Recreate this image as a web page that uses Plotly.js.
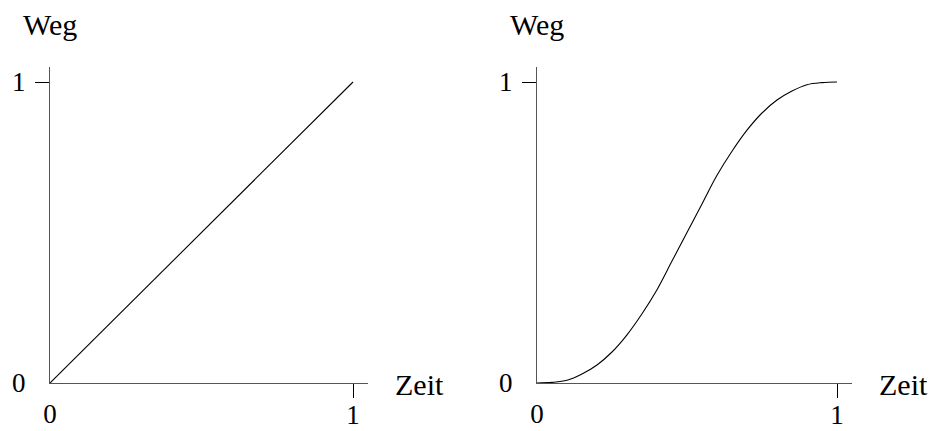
<!DOCTYPE html>
<html>
<head>
<meta charset="utf-8">
<script src="https://cdn.plot.ly/plotly-3.0.1.min.js"></script>
<style>
  html, body { margin: 0; padding: 0; background: #fff; }
  #chart { width: 934px; height: 431px; }
</style>
</head>
<body>
<div id="chart"></div>
<script>
// Linear motion: distance grows evenly with time
const linearTime = [0, 1];
const linearDist = [0, 1];

// Smooth start/stop motion: slow start, fast middle, slow arrival
const smoothTime = [0, 0.05, 0.1, 0.15, 0.2, 0.25, 0.3, 0.35, 0.4, 0.45, 0.5,
                    0.55, 0.6, 0.65, 0.7, 0.75, 0.8, 0.85, 0.9, 0.95, 1];
const smoothDist = [0, 0.002, 0.009, 0.03, 0.06, 0.103, 0.16, 0.23, 0.31, 0.405, 0.5,
                    0.595, 0.69, 0.77, 0.84, 0.897, 0.94, 0.97, 0.991, 0.998, 1];

const xTitle = 'Zeit';
const yTitle = 'Weg';
const tickOne = [1];
const tickZero = [0];

const W = 934, H = 431;
const TICK_FONT = {family: 'Liberation Serif', size: 27, color: '#000'};
const TITLE_FONT = {family: 'Liberation Serif', size: 30, color: '#000'};
const AXIS_MAX = 1.05;

const leftDom = [50 / W, (50 + 303 * AXIS_MAX) / W];
const rightDom = [537 / W, (537 + 300 * AXIS_MAX) / W];
const yDom = [(H - 383) / H, (H - 383 + 301 * AXIS_MAX) / H];

function baseAxis(vals, tickColor, isX) {
  return {
    range: [0, AXIS_MAX], autorange: false,
    showgrid: false, zeroline: false,
    tickmode: 'array', tickvals: vals, ticktext: vals.map(String),
    ticks: 'outside', ticklen: 14, tickwidth: 1, tickcolor: tickColor,
    ticklabelstandoff: isX ? -7 : 4,
    tickfont: TICK_FONT, fixedrange: true
  };
}
function mainAxis(dom, anchor, isX) {
  return Object.assign(baseAxis(tickOne, '#000', isX), {
    domain: dom, anchor: anchor, showline: true, linecolor: '#555', linewidth: 1.2
  });
}
// Label-only axes carrying the "0" at the origin (no tick stroke there)
function zeroAxis(over, anchor, isX) {
  return Object.assign(baseAxis(tickZero, 'rgba(0,0,0,0)', isX), {
    overlaying: over, anchor: anchor, showline: false
  });
}

const traces = [
  {x: linearTime, y: linearDist, xaxis: 'x', yaxis: 'y', mode: 'lines',
   line: {color: '#000', width: 1.1}, cliponaxis: false, hoverinfo: 'skip'},
  {x: smoothTime, y: smoothDist, xaxis: 'x2', yaxis: 'y2', mode: 'lines',
   line: {color: '#000', width: 1.1, shape: 'spline', smoothing: 1}, cliponaxis: false, hoverinfo: 'skip'},
  // empty traces so the label-only axes get drawn
  {x: [null], y: [null], xaxis: 'x3', yaxis: 'y', mode: 'lines', hoverinfo: 'skip'},
  {x: [null], y: [null], xaxis: 'x', yaxis: 'y3', mode: 'lines', hoverinfo: 'skip'},
  {x: [null], y: [null], xaxis: 'x4', yaxis: 'y2', mode: 'lines', hoverinfo: 'skip'},
  {x: [null], y: [null], xaxis: 'x2', yaxis: 'y4', mode: 'lines', hoverinfo: 'skip'}
];

function axisTitles(xr, yr) {
  return [
    {xref: xr, yref: 'paper', x: 0, y: (H - 24) / H, text: yTitle, showarrow: false,
     xanchor: 'center', yanchor: 'middle', font: TITLE_FONT},
    {xref: xr, yref: yr, x: AXIS_MAX, y: 0, text: xTitle, showarrow: false,
     xanchor: 'left', yanchor: 'middle', xshift: 25, yshift: -1, font: TITLE_FONT}
  ];
}

const layout = {
  width: W, height: H,
  margin: {l: 0, r: 0, t: 0, b: 0},
  paper_bgcolor: '#fff', plot_bgcolor: 'rgba(0,0,0,0)',
  showlegend: false,
  font: TICK_FONT,
  xaxis: mainAxis(leftDom, 'y', true),
  yaxis: mainAxis(yDom, 'x', false),
  xaxis2: mainAxis(rightDom, 'y2', true),
  yaxis2: mainAxis(yDom, 'x2', false),
  xaxis3: zeroAxis('x', 'y', true),
  yaxis3: zeroAxis('y', 'x', false),
  xaxis4: zeroAxis('x2', 'y2', true),
  yaxis4: zeroAxis('y2', 'x2', false),
  annotations: axisTitles('x', 'y').concat(axisTitles('x2', 'y2'))
};

Plotly.newPlot('chart', traces, layout, {staticPlot: true, displayModeBar: false});
</script>
</body>
</html>
